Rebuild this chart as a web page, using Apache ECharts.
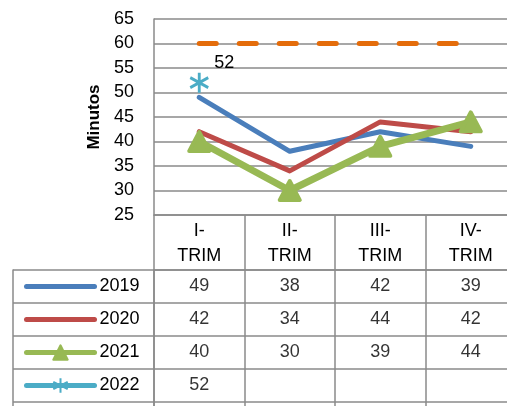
<!DOCTYPE html>
<html>
<head>
<meta charset="utf-8">
<script src="https://cdn.jsdelivr.net/npm/echarts@6/dist/echarts.min.js"></script>
<style>
  html, body { margin: 0; padding: 0; background: #fff; }
  #chart { width: 507px; height: 406px; }
</style>
</head>
<body>
<div id="chart"></div>
<script>
// Quarterly response time (minutes) per year, with the 60-minute target
const categories = ['I-TRIM', 'II-TRIM', 'III-TRIM', 'IV-TRIM'];
const years = ['2019', '2020', '2021', '2022', 'Meta'];
const v2019 = [49, 38, 42, 39];
const v2020 = [42, 34, 44, 42];
const v2021 = [40, 30, 39, 44];
const v2022 = [52, null, null, null];
const vMeta = [60, 60, 60, 60];
const yMin = 25, yMax = 65, yStep = 5;

const rows = [v2019, v2020, v2021, v2022, vMeta];
const colors = ['#4a7ebb', '#be4b48', '#98b954', '#4bacc6', '#e46c0a'];
const gridColor = '#8a8a8a';
const font = 'Liberation Sans, Arial, sans-serif';

// cells of the data table under the plot
const cells = [];
rows.forEach((vals, r) => {
  vals.forEach((v, c) => {
    if (v !== null) cells.push([categories[c], years[r], v]);
  });
});

// legend keys: plain lines for the series drawn without markers
const legendItems = years.slice(0, 4).map((name, i) => {
  if (i < 2) return { name, itemStyle: { opacity: 0, color: 'transparent', borderWidth: 0 } };
  if (i === 2) return { name, itemStyle: { borderWidth: 2 } };
  return { name };
});

const starPath = 'path://M0,-10L0,10M-8.7,-5L8.7,5M-8.7,5L8.7,-5';

const chart = echarts.init(document.getElementById('chart'), null, { renderer: 'canvas' });
chart.setOption({
  animation: false,
  backgroundColor: '#fff',
  textStyle: { fontFamily: font },
  grid: [
    { left: 154, right: -9, top: 19, bottom: 191, outerBoundsMode: 'none' },
    { left: 154, right: -9, top: 270, height: 165, outerBoundsMode: 'none' }
  ],
  legend: {
    orient: 'vertical',
    left: 24,
    top: 277.5,
    padding: 0,
    itemWidth: 68,
    itemHeight: 18,
    itemGap: 15,
    data: legendItems,
    selectedMode: false,
    lineStyle: { width: 5, cap: 'round' },
    textStyle: { fontSize: 18, color: '#000', lineHeight: 18, fontFamily: font }
  },
  xAxis: [
    {
      gridIndex: 0,
      type: 'category',
      data: categories,
      boundaryGap: true,
      axisLine: { lineStyle: { color: gridColor, width: 1.5 } },
      axisTick: { show: true, length: 55, interval: 0, lineStyle: { color: gridColor, width: 1.5 } },
      axisLabel: {
        interval: 0,
        margin: 4,
        color: '#000',
        fontSize: 18,
        lineHeight: 25,
        fontFamily: font,
        formatter: (v) => v.replace('-', '-\n')
      },
      splitLine: { show: false }
    },
    {
      gridIndex: 1,
      type: 'category',
      data: categories,
      position: 'top',
      boundaryGap: true,
      axisLine: { show: true, lineStyle: { color: gridColor, width: 1.5 } },
      axisTick: { show: false },
      axisLabel: { show: false },
      splitLine: { show: true, interval: 0, lineStyle: { color: gridColor, width: 1.5 } }
    }
  ],
  yAxis: [
    {
      gridIndex: 0,
      type: 'value',
      min: yMin,
      max: yMax,
      interval: yStep,
      name: 'Minutos',
      nameLocation: 'middle',
      nameGap: 50,
      nameTextStyle: { fontSize: 17, fontWeight: 'bold', color: '#000', fontFamily: font },
      axisLine: { show: true, lineStyle: { color: gridColor, width: 1.5 } },
      axisTick: { show: false },
      axisLabel: { margin: 20, color: '#000', fontSize: 18, fontFamily: font },
      splitLine: { show: true, lineStyle: { color: gridColor, width: 1.5 } }
    },
    {
      gridIndex: 1,
      type: 'category',
      data: years,
      inverse: true,
      boundaryGap: true,
      axisLine: { show: true, lineStyle: { color: gridColor, width: 1.5 } },
      axisTick: { show: true, length: 141, interval: 0, lineStyle: { color: gridColor, width: 1.5 } },
      axisLabel: { show: false },
      splitLine: { show: true, interval: 0, lineStyle: { color: gridColor, width: 1.5 } }
    },
    {
      gridIndex: 1,
      type: 'category',
      data: years,
      inverse: true,
      position: 'left',
      offset: 141,
      axisLine: { show: true, lineStyle: { color: gridColor, width: 1.5 } },
      axisTick: { show: false },
      axisLabel: { show: false },
      splitLine: { show: false }
    }
  ],
  series: [
    {
      name: years[0], type: 'line', data: v2019, symbol: 'none',
      color: colors[0],
      lineStyle: { width: 5, color: colors[0], cap: 'round', join: 'round' }
    },
    {
      name: years[1], type: 'line', data: v2020, symbol: 'none',
      color: colors[1],
      lineStyle: { width: 5, color: colors[1], cap: 'round', join: 'round' }
    },
    {
      name: years[2], type: 'line', data: v2021, symbol: 'triangle', symbolSize: [20, 19],
      color: colors[2],
      lineStyle: { width: 7, color: colors[2], cap: 'round', join: 'round' },
      itemStyle: { color: colors[2], borderColor: colors[2], borderWidth: 4, borderJoin: 'round' }
    },
    {
      name: years[3], type: 'line', data: v2022, symbol: starPath, symbolSize: [18, 20],
      color: colors[3],
      lineStyle: { width: 5, color: colors[3], cap: 'round' },
      itemStyle: { color: colors[3], borderColor: colors[3], borderWidth: 3 },
      label: {
        show: true, position: 'inside', offset: [25, -20],
        color: '#000', fontSize: 18, fontFamily: font,
        formatter: (p) => String(p.value)
      }
    },
    {
      name: years[4], type: 'line', data: vMeta, symbol: 'none',
      color: colors[4],
      lineStyle: { width: 5, color: colors[4], type: [17, 23], cap: 'round' }
    },
    {
      type: 'scatter',
      xAxisIndex: 1,
      yAxisIndex: 1,
      data: cells,
      symbolSize: 0,
      silent: true,
      label: {
        show: true, position: 'inside',
        color: '#000', fontSize: 18, fontFamily: font,
        formatter: (p) => String(p.value[2])
      }
    }
  ]
});
</script>
</body>
</html>
